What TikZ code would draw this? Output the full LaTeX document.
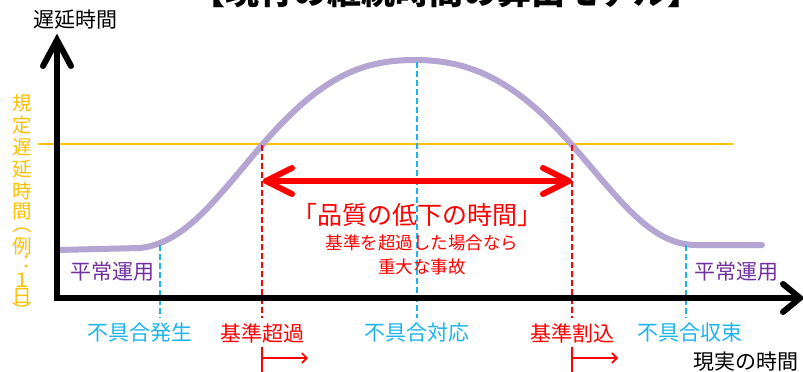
\documentclass[tikz,border=0pt]{standalone}
\usepackage{fontspec}
\newfontfamily\jp{Noto Sans CJK JP}
\usetikzlibrary{arrows.meta}
\definecolor{lav}{RGB}{180,165,210}
\definecolor{skyb}{RGB}{30,180,235}
\definecolor{goldc}{RGB}{255,192,0}
\definecolor{purp}{RGB}{112,48,160}
\definecolor{redc}{RGB}{255,0,0}
\begin{document}
\begin{tikzpicture}[x=1pt,y=-1pt,
  lbl/.style={font=\jp\fontsize{21}{24}\selectfont, inner sep=0pt},
  vlbl/.style={font=\jp\fontsize{19.5}{22}\selectfont, inner sep=0pt, text=goldc},
  axisline/.style={line width=6pt, black},
  axishead/.style={line width=6pt, black, line cap=round, line join=miter},
  dashb/.style={skyb, line width=2pt, dash pattern=on 6pt off 3pt},
  dashr/.style={redc, line width=2pt, dash pattern=on 6pt off 3pt},
  smallarr/.style={redc, line width=1.6pt},
]
\useasboundingbox (0,0) rectangle (803,372);
\fill[white] (0,0) rectangle (803,372);

% title (cut off at top)
\node[font=\jp\bfseries\fontsize{34}{40}\selectfont, inner sep=0pt, anchor=base] (title) at (446,5) {【現行の継続時間の算出モデル】};

% threshold line
\coordinate (thL) at (38,144);
\coordinate (thR) at (733,144);
\draw[goldc, line width=2.5pt] (thL) -- (thR);

% curve
\draw[lav, line width=6pt, line cap=round] (58,250) -- (140,248)
  .. controls (185,243) and (215,200) .. (262,145)
  .. controls (320,78) and (360,60) .. (415,60)
  .. controls (470,60) and (515,80) .. (572,145)
  .. controls (620,200) and (650,244) .. (695,245) -- (762,245);

% dashed verticals
\coordinate (b1t) at (160,245); \coordinate (b1b) at (160,318);
\coordinate (b2t) at (417,62);  \coordinate (b2b) at (417,318);
\coordinate (b3t) at (686,245); \coordinate (b3b) at (686,318);
\coordinate (r1t) at (262,145); \coordinate (r1b) at (262,318);
\coordinate (r2t) at (572,145); \coordinate (r2b) at (572,318);
\draw[dashb] (b1t) -- (b1b);
\draw[dashb] (b2t) -- (b2b);
\draw[dashb] (b3t) -- (b3b);
\draw[dashr] (r1t) -- (r1b);
\draw[dashr] (r2t) -- (r2b);

% axes
\coordinate (origin) at (57,298);
\coordinate (ytop) at (57,40);
\coordinate (xend) at (799,298);
\draw[axisline] (57,301) -- (ytop);
\draw[axisline] (54,298) -- (xend);
\draw[axishead] (43,66) -- (57,40) -- (71,66);
\draw[axishead] (783,284) -- (800,298) -- (783,312);

% red double arrow
\coordinate (qa) at (266,181);
\coordinate (qb) at (569,181);
\draw[redc, line width=6pt, line cap=round] (qa) -- (qb);
\draw[redc, line width=6pt, line cap=round, line join=round] (292,168) -- (qa) -- (292,194);
\draw[redc, line width=6pt, line cap=round, line join=round] (543,168) -- (qb) -- (543,194);

% red texts
\node[lbl, text=redc, font=\jp\fontsize{25}{28}\selectfont] (quality) at (417,215) {「品質の低下の時間」};
\node[lbl, text=redc, font=\jp\fontsize{17.5}{20}\selectfont] (q2) at (422,243) {基準を超過した場合なら};
\node[lbl, text=redc, font=\jp\fontsize{17.5}{20}\selectfont] (q3) at (422,267) {重大な事故};

% axis labels
\node[lbl] (ylab) at (75,20) {遅延時間};
\node[lbl] (xlab) at (746,362) {現実の時間};

% normal operation
\node[lbl, text=purp] (n1) at (112,272) {平常運用};
\node[lbl, text=purp] (n2) at (736,272) {平常運用};

% bottom labels
\node[lbl, text=skyb] (l1) at (140,333) {不具合発生};
\node[lbl, text=redc] (l2) at (262,333) {基準超過};
\node[lbl, text=skyb] (l3) at (417,333) {不具合対応};
\node[lbl, text=redc] (l4) at (572,333) {基準割込};
\node[lbl, text=skyb] (l5) at (690,333) {不具合収束};

% small red arrows
\coordinate (s1t) at (262,347); \coordinate (s1b) at (262,374);
\coordinate (s1s) at (262,358); \coordinate (s1e) at (308,358);
\coordinate (s2t) at (572,347); \coordinate (s2b) at (572,374);
\coordinate (s2s) at (572,358); \coordinate (s2e) at (618,358);
\draw[smallarr] (s1t) -- (s1b);
\draw[smallarr, -{Straight Barb[length=5pt,width=10pt]}] (s1s) -- (s1e);
\draw[smallarr] (s2t) -- (s2b);
\draw[smallarr, -{Straight Barb[length=5pt,width=10pt]}] (s2s) -- (s2e);

% vertical gold label
\node[vlbl] (v1) at (22,103) {規};
\node[vlbl] (v2) at (22,125) {定};
\node[vlbl] (v3) at (22,147) {遅};
\node[vlbl] (v4) at (22,169) {延};
\node[vlbl] (v5) at (22,191) {時};
\node[vlbl] (v6) at (22,212) {間};
\node[vlbl] (v7) at (22,230) {︵};
\node[vlbl] (v8) at (22,246) {例};
\node[vlbl] (v9) at (22,263) {︓};
\node[vlbl] (v10) at (22,280) {１};
\node[vlbl] (v11) at (22,297) {日};
\node[vlbl] (v12) at (22,310) {︶};
\end{tikzpicture}
\end{document}
